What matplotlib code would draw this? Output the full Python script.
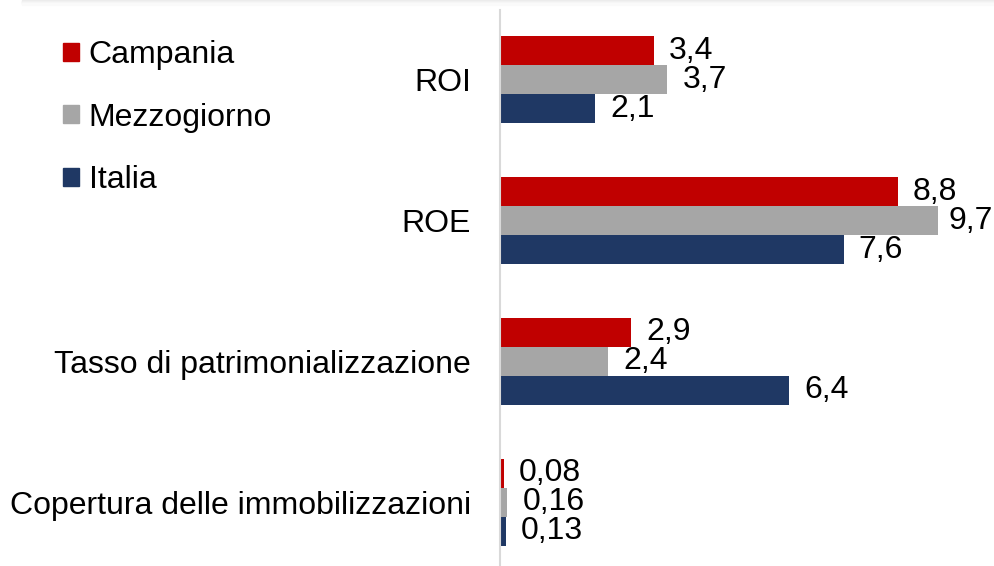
import matplotlib
matplotlib.use("Agg")
import matplotlib.pyplot as plt
from matplotlib.patches import Patch, Rectangle
import numpy as np

plt.rcParams['font.family'] = ['Liberation Sans', 'DejaVu Sans']

categories = ["ROI", "ROE", "Tasso di patrimonializzazione", "Copertura delle immobilizzazioni"]
series_names = ["Campania", "Mezzogiorno", "Italia"]
campania = [3.4, 8.8, 2.9, 0.08]
mezzogiorno = [3.7, 9.7, 2.4, 0.16]
italia = [2.1, 7.6, 6.4, 0.13]
labels_campania = ["3,4", "8,8", "2,9", "0,08"]
labels_mezzogiorno = ["3,7", "9,7", "2,4", "0,16"]
labels_italia = ["2,1", "7,6", "6,4", "0,13"]
colors = ["#C00000", "#A6A6A6", "#1F3864"]

FS = 23
W, H = 994, 566
fig = plt.figure(figsize=(W / 100, H / 100), dpi=100)

# top shadow band
for i, c in enumerate(["#ececec", "#f1f1f1", "#f6f6f6", "#fafafa"]):
    fig.patches.append(Rectangle((22 / W, 1 - (i + 2) / H), 1, 2 / H,
                                 transform=fig.transFigure, color=c, zorder=0))

ax = fig.add_axes([500 / W, 0, 1 - 500 / W - 8 / W, 556 / H])

y = np.arange(len(categories))
h = 0.206
data = [campania, mezzogiorno, italia]
labs = [labels_campania, labels_mezzogiorno, labels_italia]
anns = []
for i, (vals, lab, col, name) in enumerate(zip(data, labs, colors, series_names)):
    bars = ax.barh(y + (i - 1) * h, vals, height=h, color=col, label=name)
    anns += ax.bar_label(bars, labels=lab, padding=11, fontsize=FS, color="black")

ax.set_xlim(0, (994 - 8 - 500) / 45.2)
ax.set_ylim(3 + 64 / 141, -70 / 141)
ax.set_yticks(y)
ax.set_yticklabels(categories, fontsize=FS)
ax.tick_params(axis='y', length=0, pad=21)
ax.set_xticks([])
for s in ["top", "right", "bottom"]:
    ax.spines[s].set_visible(False)
ax.spines["left"].set_color("#d9d9d9")
ax.spines["left"].set_linewidth(1.5)

handles = [Patch(color=c, label=n) for c, n in zip(colors, series_names)]
fig.legend(handles=handles, loc="upper left", bbox_to_anchor=(47 / W, 1 - 24 / H),
           frameon=False, fontsize=FS, handlelength=0.5, handleheight=0.5,
           handletextpad=0.3, labelspacing=1.02, borderpad=0)

# keep value labels inside the figure
fig.canvas.draw()
r = fig.canvas.get_renderer()
for a in anns:
    bb = a.get_window_extent(r)
    over = bb.x1 - (W - 1)
    if over > 0:
        dx, dy = a.xyann
        a.xyann = (dx - over * 72 / fig.dpi, dy)

fig.savefig("out.png", dpi=100)
